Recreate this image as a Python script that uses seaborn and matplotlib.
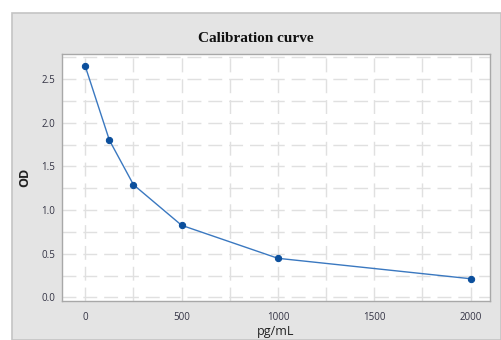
import numpy as np
import matplotlib
matplotlib.use("Agg")
import matplotlib.pyplot as plt
from matplotlib.patches import Rectangle
from matplotlib.ticker import MultipleLocator
import pandas as pd
import seaborn as sns

# calibration points
conc = [0, 125, 250, 500, 1000, 2000]
od = [2.645, 1.80, 1.29, 0.825, 0.447, 0.213]

df = pd.DataFrame({"pg/mL": conc, "OD": od})

sns.set_style("white")
plt.rcParams["font.family"] = ["Open Sans", "DejaVu Sans"]

fig = plt.figure(figsize=(5.01, 3.40), dpi=100)
fig.patch.set_facecolor("white")
# grey panel behind the plot
panel = Rectangle((12 / 501, 0), 1 - 12 / 501, 1 - 13 / 340,
                  transform=fig.transFigure, facecolor="#e4e4e4",
                  edgecolor="#c4c4c4", linewidth=1.2, zorder=-5)
fig.add_artist(panel)

ax = fig.add_axes([62 / 501, 39 / 340, 428 / 501, 247 / 340])
ax.set_zorder(2)
ax.set_facecolor("white")

sns.lineplot(data=df, x="pg/mL", y="OD", ax=ax, color="#3a78c0", linewidth=1.0,
             marker="o", markersize=4.5, markerfacecolor="#0b4f9c",
             markeredgecolor="#0b4f9c", zorder=3)

ax.set_xlim(-121, 2101)
ax.xaxis.set_major_locator(MultipleLocator(500))
ax.xaxis.set_minor_locator(MultipleLocator(250))
ax.set_yticks([0.0, 0.5, 1.0, 1.5, 2.0, 2.5])
ax.set_yticklabels(["0.0", "0.5", "1.0", "1.5", "2.0", "2.5"])
ax.yaxis.set_minor_locator(MultipleLocator(0.25))
ax.set_ylim(-0.042, 2.787)

ax.grid(True, which="both", color="#e0e0e0", linewidth=1.0, linestyle=(0, (10, 5)))
ax.set_axisbelow(True)

for s in ax.spines.values():
    s.set_color("#a8a8a8")
    s.set_linewidth(1.0)

ax.tick_params(axis="both", which="major", direction="out", length=3, width=0.8,
               color="#a8a8a8", labelsize=7, labelcolor="#333344", pad=2)
ax.tick_params(axis="x", which="major", pad=5)
ax.tick_params(axis="both", which="minor", length=0)

ax.set_xlabel("pg/mL", fontsize=9, color="#222222", labelpad=1)
ax.set_ylabel("OD", fontsize=9, color="#222222", labelpad=7, fontweight="bold")
fig.text(256 / 501, 1 - 39 / 340, "Calibration curve", ha="center", va="center",
         fontsize=11, fontweight="bold", family="Liberation Serif", color="#111111")

fig.savefig("out.png", dpi=100)
